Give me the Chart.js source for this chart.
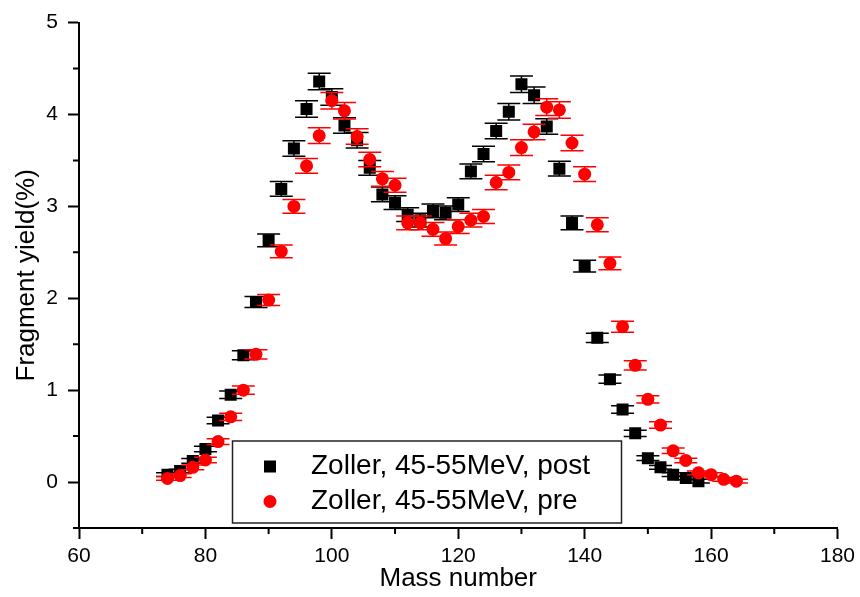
<!DOCTYPE html>
<html>
<head>
<meta charset="utf-8">
<title>Fragment yield</title>
<script src="https://cdn.jsdelivr.net/npm/chart.js@4/dist/chart.umd.min.js"></script>
<style>
  html, body { margin: 0; padding: 0; background: #fff; }
  #wrap { width: 860px; height: 597px; }
</style>
</head>
<body>
<div id="wrap"><canvas id="chart" width="860" height="597"></canvas></div>
<script>
// mass numbers and yields (%)
const massPost = [74, 76, 78, 80, 82, 84, 86, 88, 90, 92, 94, 96, 98, 100, 102, 104, 106, 108, 110, 112,
  114, 116, 118, 120, 122, 124, 126, 128, 130, 132, 134, 136, 138, 140, 142, 144, 146, 148, 150, 152,
  154, 156, 158];
const yieldPost = [0.08, 0.12, 0.23, 0.36, 0.67, 0.95, 1.38, 1.96, 2.63, 3.19, 3.63, 4.06, 4.36, 4.19, 3.88, 3.72, 3.42, 3.13, 3.04, 2.91,
  2.85, 2.95, 2.93, 3.02, 3.38, 3.57, 3.82, 4.03, 4.33, 4.21, 3.87, 3.41, 2.82, 2.35, 1.57, 1.12, 0.79, 0.53, 0.26, 0.16,
  0.08, 0.045, 0.01];
const errPost = [0.02, 0.02, 0.025, 0.03, 0.035, 0.04, 0.05, 0.06, 0.07, 0.08, 0.085, 0.09, 0.09, 0.09, 0.085, 0.085, 0.08, 0.08, 0.075, 0.075,
  0.075, 0.075, 0.075, 0.075, 0.08, 0.085, 0.085, 0.09, 0.09, 0.09, 0.085, 0.08, 0.075, 0.065, 0.05, 0.045, 0.04, 0.035, 0.025, 0.02,
  0.02, 0.02, 0.02];

const massPre = [74, 76, 78, 80, 82, 84, 86, 88, 90, 92, 94, 96, 98, 100, 102, 104, 106, 108, 110, 112,
  114, 116, 118, 120, 122, 124, 126, 128, 130, 132, 134, 136, 138, 140, 142, 144, 146, 148, 150, 152,
  154, 156, 158, 160, 162, 164];
const yieldPre = [0.04, 0.07, 0.16, 0.24, 0.44, 0.71, 1.0, 1.39, 1.98, 2.51, 3.0, 3.44, 3.77, 4.15, 4.04, 3.76, 3.51, 3.30, 3.23, 2.82,
  2.82, 2.75, 2.65, 2.78, 2.85, 2.89, 3.26, 3.37, 3.64, 3.81, 4.08, 4.05, 3.69, 3.35, 2.80, 2.38, 1.69, 1.27, 0.90, 0.62,
  0.34, 0.235, 0.10, 0.08, 0.03, 0.01];
const errPre = [0.02, 0.02, 0.025, 0.03, 0.03, 0.04, 0.045, 0.05, 0.06, 0.07, 0.075, 0.08, 0.085, 0.09, 0.09, 0.085, 0.08, 0.08, 0.075, 0.075,
  0.075, 0.075, 0.07, 0.075, 0.075, 0.075, 0.08, 0.08, 0.085, 0.085, 0.09, 0.09, 0.085, 0.08, 0.075, 0.07, 0.06, 0.05, 0.04, 0.035,
  0.03, 0.025, 0.02, 0.02, 0.02, 0.02];

const seriesLabels = ['Zoller, 45-55MeV, post', 'Zoller, 45-55MeV, pre'];

const xMajor = [60, 80, 100, 120, 140, 160, 180];
const xMinor = [70, 90, 110, 130, 150, 170];
const yMajor = [0, 1, 2, 3, 4, 5];
const yMinor = [-0.5, 0.5, 1.5, 2.5, 3.5, 4.5];

Chart.defaults.font.family = '"Liberation Sans", Arial, sans-serif';
Chart.defaults.color = '#000';

function toPoints(xs, ys) {
  return xs.map((x, i) => ({ x: x, y: ys[i] }));
}

// vertical error bars with wide caps, drawn just under each series' markers
const errorBars = {
  id: 'errorBars',
  beforeDatasetDraw(chart, args) {
    const ds = chart.data.datasets[args.index];
    if (!ds.errors) return;
    const xs = chart.scales.x, ys = chart.scales.y;
    const ctx = chart.ctx;
    ctx.save();
    ctx.strokeStyle = ds.backgroundColor;
    ctx.lineWidth = 1.5;
    ds.data.forEach((p, i) => {
      const e = ds.errors[i];
      const px = xs.getPixelForValue(p.x);
      const top = ys.getPixelForValue(p.y + e);
      const bot = ys.getPixelForValue(p.y - e);
      ctx.beginPath();
      ctx.moveTo(px, top); ctx.lineTo(px, bot);
      ctx.moveTo(px - 11.5, top); ctx.lineTo(px + 11.5, top);
      ctx.moveTo(px - 11.5, bot); ctx.lineTo(px + 11.5, bot);
      ctx.stroke();
    });
    ctx.restore();
  }
};

// short outward minor ticks on both axes
const minorTicks = {
  id: 'minorTicks',
  afterDraw(chart) {
    const xs = chart.scales.x, ys = chart.scales.y;
    const { left, bottom } = chart.chartArea;
    const ctx = chart.ctx;
    ctx.save();
    ctx.strokeStyle = '#000';
    ctx.lineWidth = 2;
    ctx.beginPath();
    xMinor.forEach(v => {
      const px = xs.getPixelForValue(v);
      ctx.moveTo(px, bottom); ctx.lineTo(px, bottom + 6);
    });
    yMinor.forEach(v => {
      const py = ys.getPixelForValue(v);
      ctx.moveTo(left, py); ctx.lineTo(left - 6, py);
    });
    ctx.stroke();
    ctx.restore();
  }
};

// boxed legend inside the plot, lower middle
const boxLegend = {
  id: 'boxLegend',
  afterDraw(chart) {
    const ctx = chart.ctx;
    ctx.save();
    ctx.fillStyle = '#fff';
    ctx.fillRect(232.5, 441, 389, 82);
    ctx.strokeStyle = '#222';
    ctx.lineWidth = 1.5;
    ctx.strokeRect(232.5, 441, 389, 82);

    ctx.fillStyle = '#000';
    ctx.fillRect(264, 460.5, 12, 12);
    ctx.fillStyle = '#ff0000';
    ctx.beginPath();
    ctx.arc(270, 501.5, 6.5, 0, Math.PI * 2);
    ctx.fill();

    ctx.fillStyle = '#000';
    ctx.font = '28px "Liberation Sans", Arial, sans-serif';
    ctx.textBaseline = 'middle';
    ctx.textAlign = 'left';
    ctx.fillText(chart.data.datasets[0].label, 311, 466);
    ctx.fillText(chart.data.datasets[1].label, 311, 501);
    ctx.restore();
  }
};

const ctx = document.getElementById('chart').getContext('2d');
const chart = new Chart(ctx, {
  type: 'scatter',
  data: {
    datasets: [
      {
        label: seriesLabels[0],
        data: toPoints(massPost, yieldPost),
        errors: errPost,
        backgroundColor: '#000000',
        borderColor: '#000000',
        pointStyle: 'rect',
        pointRadius: 8.5,
        pointBorderWidth: 0,
        order: 2
      },
      {
        label: seriesLabels[1],
        data: toPoints(massPre, yieldPre),
        errors: errPre,
        backgroundColor: '#ff0000',
        borderColor: '#ff0000',
        pointStyle: 'circle',
        pointRadius: 6.5,
        pointBorderWidth: 0,
        order: 1
      }
    ]
  },
  options: {
    responsive: false,
    animation: false,
    devicePixelRatio: 1,
    layout: { padding: { top: 18, right: 22, bottom: 0, left: 0 } },
    plugins: {
      legend: { display: false },
      tooltip: { enabled: false }
    },
    scales: {
      x: {
        type: 'linear',
        min: 60,
        max: 180,
        afterBuildTicks: (scale) => { scale.ticks = xMajor.map(v => ({ value: v })); },
        afterFit: (scale) => { scale.height = 69; },
        ticks: { font: { size: 21 }, padding: 5, maxRotation: 0, color: '#000' },
        grid: { drawOnChartArea: false, drawTicks: true, tickLength: 11, tickWidth: 2, tickColor: '#000' },
        border: { display: true, color: '#000', width: 2 },
        title: { display: true, text: 'Mass number', font: { size: 26 }, color: '#000', padding: { top: 0, bottom: 3 } }
      },
      y: {
        type: 'linear',
        min: -0.5,
        max: 5,
        afterBuildTicks: (scale) => { scale.ticks = yMajor.map(v => ({ value: v })); },
        afterFit: (scale) => { scale.width = 79; },
        ticks: { font: { size: 21 }, padding: 10, color: '#000' },
        grid: { drawOnChartArea: false, drawTicks: true, tickLength: 11, tickWidth: 2, tickColor: '#000' },
        border: { display: true, color: '#000', width: 2 },
        title: { display: true, text: 'Fragment yield(%)', font: { size: 26 }, color: '#000', padding: { top: 11, bottom: 0 } }
      }
    }
  },
  plugins: [errorBars, minorTicks, boxLegend]
});
</script>
</body>
</html>
